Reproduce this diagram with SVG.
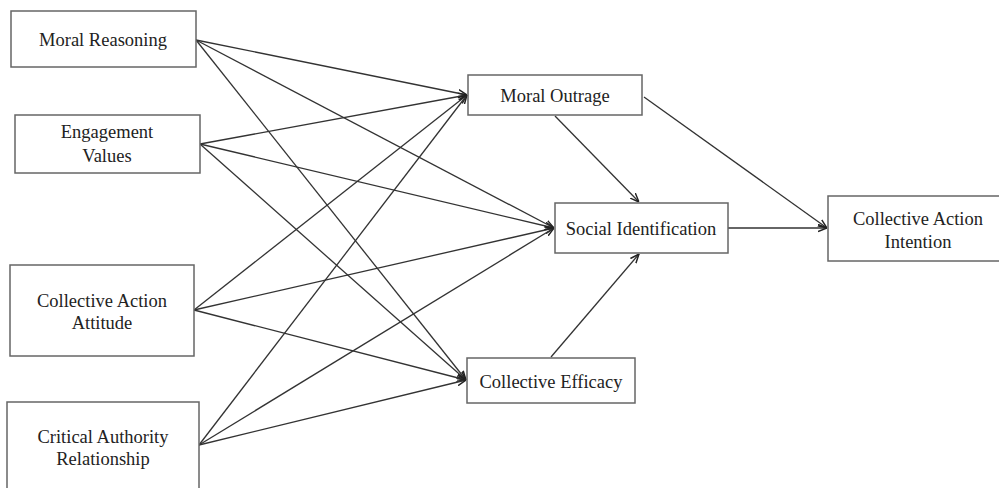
<svg xmlns="http://www.w3.org/2000/svg" width="999" height="488" viewBox="0 0 999 488">
<style>
.box{fill:#fff;stroke:#666;stroke-width:1.5}
.lbl{font-family:"Liberation Serif","Times New Roman",serif;font-size:18.5px;fill:#222;text-anchor:middle}
.c line{stroke:#333;stroke-width:1.3;marker-end:url(#ah)}
</style>
<defs>
<marker id="ah" viewBox="0 0 10 10" refX="10" refY="5" markerWidth="9" markerHeight="9" markerUnits="userSpaceOnUse" orient="auto">
<path d="M0,1 L10,5 L0,9" fill="none" stroke="#222" stroke-width="1.6"/>
</marker>
</defs>
<rect width="999" height="488" fill="#fff"/>
<g id="connectors" class="c">
<line x1="196" y1="40" x2="467" y2="95"/>
<line x1="196" y1="40" x2="554" y2="228"/>
<line x1="196" y1="40" x2="466" y2="380"/>
<line x1="200" y1="144" x2="467" y2="95"/>
<line x1="200" y1="144" x2="554" y2="228"/>
<line x1="200" y1="144" x2="466" y2="380"/>
<line x1="194" y1="310" x2="467" y2="95"/>
<line x1="194" y1="310" x2="554" y2="228"/>
<line x1="194" y1="310" x2="466" y2="380"/>
<line x1="199" y1="445" x2="467" y2="95"/>
<line x1="199" y1="445" x2="554" y2="228"/>
<line x1="199" y1="445" x2="466" y2="380"/>
<line x1="555" y1="116" x2="639" y2="202"/>
<line x1="551" y1="357" x2="639" y2="254"/>
<line x1="644" y1="97" x2="827" y2="228"/>
<line x1="728" y1="228" x2="827" y2="228"/>
</g>
<g id="moral-reasoning"><rect class="box" x="11" y="11" width="185" height="56"/><text class="lbl" x="103" y="46">Moral Reasoning</text></g>
<g id="engagement-values"><rect class="box" x="15" y="115" width="185" height="58"/><text class="lbl" x="107" y="138">Engagement</text><text class="lbl" x="107" y="162">Values</text></g>
<g id="collective-action-attitude"><rect class="box" x="10" y="265" width="184" height="91"/><text class="lbl" x="102" y="307">Collective Action</text><text class="lbl" x="102" y="329">Attitude</text></g>
<g id="critical-authority-relationship"><rect class="box" x="7" y="402" width="192" height="92"/><text class="lbl" x="103" y="443">Critical Authority</text><text class="lbl" x="103" y="465">Relationship</text></g>
<g id="moral-outrage"><rect class="box" x="468" y="75" width="174" height="40"/><text class="lbl" x="555" y="102">Moral Outrage</text></g>
<g id="social-identification"><rect class="box" x="555" y="203" width="173" height="50"/><text class="lbl" x="641" y="235">Social Identification</text></g>
<g id="collective-efficacy"><rect class="box" x="467" y="358" width="168" height="45"/><text class="lbl" x="551" y="388">Collective Efficacy</text></g>
<g id="collective-action-intention"><rect class="box" x="828" y="196" width="180" height="65"/><text class="lbl" x="918" y="225">Collective Action</text><text class="lbl" x="918" y="248">Intention</text></g>
</svg>
